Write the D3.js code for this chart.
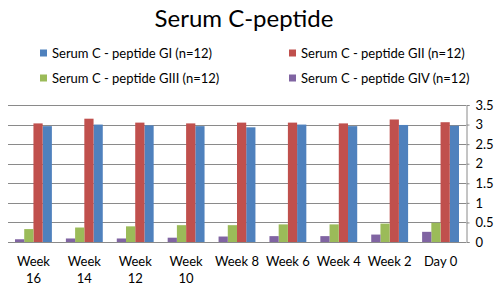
<!DOCTYPE html>
<html>
<head>
<meta charset="utf-8">
<script src="https://cdn.jsdelivr.net/npm/d3@7"></script>
<style>
  body { margin: 0; background: #fff; }
  svg { display: block; font-family: Lato, "Open Sans", sans-serif; }
</style>
</head>
<body>
<svg id="chart"></svg>
<script>
const categories = ["Week 16", "Week 14", "Week 12", "Week 10", "Week 8", "Week 6", "Week 4", "Week 2", "Day 0"];
const seriesNames = ["Serum C - peptide GI (n=12)", "Serum C - peptide GII (n=12)",
                     "Serum C - peptide GIII (n=12)", "Serum C - peptide GIV (n=12)"];
const seriesColors = ["#4f81bd", "#c0504d", "#9bbb59", "#8064a2"];
const valuesGI   = [2.96, 3.00, 2.98, 2.96, 2.93, 3.00, 2.96, 2.99, 2.97];
const valuesGII  = [3.03, 3.15, 3.05, 3.03, 3.05, 3.05, 3.03, 3.13, 3.06];
const valuesGIII = [0.33, 0.37, 0.40, 0.43, 0.43, 0.45, 0.45, 0.47, 0.49];
const valuesGIV  = [0.07, 0.09, 0.09, 0.11, 0.14, 0.15, 0.15, 0.19, 0.26];
const yTicks = [0, 0.5, 1, 1.5, 2, 2.5, 3, 3.5];

const width = 500, height = 291;
const margin = { top: 105, right: 34, bottom: 49, left: 8 };
const innerW = width - margin.left - margin.right;
const innerH = height - margin.top - margin.bottom;

const series = [valuesGI, valuesGII, valuesGIII, valuesGIV].map((vals, i) => ({
    name: seriesNames[i], color: seriesColors[i], values: vals
}));

const svg = d3.select("#chart").attr("width", width).attr("height", height);

// title
svg.append("text")
    .attr("x", 244).attr("y", 27)
    .attr("text-anchor", "middle")
    .attr("font-size", 24)
    .attr("fill", "#000")
    .text("Serum C-peptide");

// legend
const legendPos = [[40, 53], [289, 53], [40, 78], [289, 78]];
const legend = svg.append("g");
series.forEach((s, i) => {
    const g = legend.append("g").attr("transform", `translate(${legendPos[i][0]}, ${legendPos[i][1]})`);
    g.append("rect").attr("x", 0).attr("y", -3.5).attr("width", 7).attr("height", 7).attr("fill", s.color);
    g.append("text").attr("x", 12).attr("y", 0).attr("dy", "0.35em")
        .attr("font-size", 13).attr("fill", "#000").text(s.name);
});

const container = svg.append("g").attr("transform", `translate(${margin.left}, ${margin.top})`);

const x0 = d3.scaleBand().domain(categories).range([0, innerW]).padding(0);
// bars inside a group are drawn GIV, GIII, GII, GI from left to right
const x1 = d3.scaleBand()
    .domain(series.map(s => s.name).reverse())
    .range([0, x0.bandwidth()])
    .paddingInner(0).paddingOuter(0.76);
const y = d3.scaleLinear().domain([0, 3.5]).range([innerH, 0]);

// grid lines
container.append("g")
    .selectAll("line")
    .data(yTicks)
    .join("line")
    .attr("x1", 0).attr("x2", innerW)
    .attr("y1", d => Math.round(y(d)) + 0.5).attr("y2", d => Math.round(y(d)) + 0.5)
    .attr("stroke", "#8a8a8a").attr("stroke-width", 1);

// right axis
const yAxis = svg.append("g")
    .attr("transform", `translate(${margin.left + innerW + 0.5}, ${margin.top})`)
    .call(d3.axisRight(y).tickValues(yTicks).tickSize(3).tickPadding(6).tickFormat(d3.format("")));
yAxis.select(".domain").attr("stroke", "#8a8a8a");
yAxis.selectAll(".tick line").attr("stroke", "#8a8a8a");
yAxis.selectAll(".tick text").attr("font-size", 13).attr("fill", "#000")
    .attr("font-family", "Lato, 'Open Sans', sans-serif");

// bars
container.selectAll("g.group")
    .data(categories)
    .join("g")
    .attr("class", "group")
    .attr("transform", d => `translate(${x0(d)}, 0)`)
    .each(function(cat, ci) {
        d3.select(this).selectAll("rect")
            .data(series)
            .join("rect")
            .attr("x", s => x1(s.name))
            .attr("y", s => y(s.values[ci]))
            .attr("width", x1.bandwidth())
            .attr("height", s => innerH - y(s.values[ci]))
            .attr("fill", s => s.color);
    });

// category labels (wrapped like the original)
const labels = svg.append("g").attr("transform", `translate(${margin.left}, ${margin.top + innerH})`);
categories.forEach(cat => {
    const cx = x0(cat) + x0.bandwidth() / 2;
    const t = labels.append("text").attr("text-anchor", "middle")
        .attr("font-size", 13).attr("fill", "#000");
    const num = parseInt(cat.replace(/\D/g, ""));
    if (cat.startsWith("Week") && num >= 10) {
        t.append("tspan").attr("x", cx).attr("y", 24).text("Week");
        t.append("tspan").attr("x", cx).attr("y", 41).text(String(num));
    } else {
        t.attr("x", cx).attr("y", 24).text(cat);
    }
});
</script>
</body>
</html>
